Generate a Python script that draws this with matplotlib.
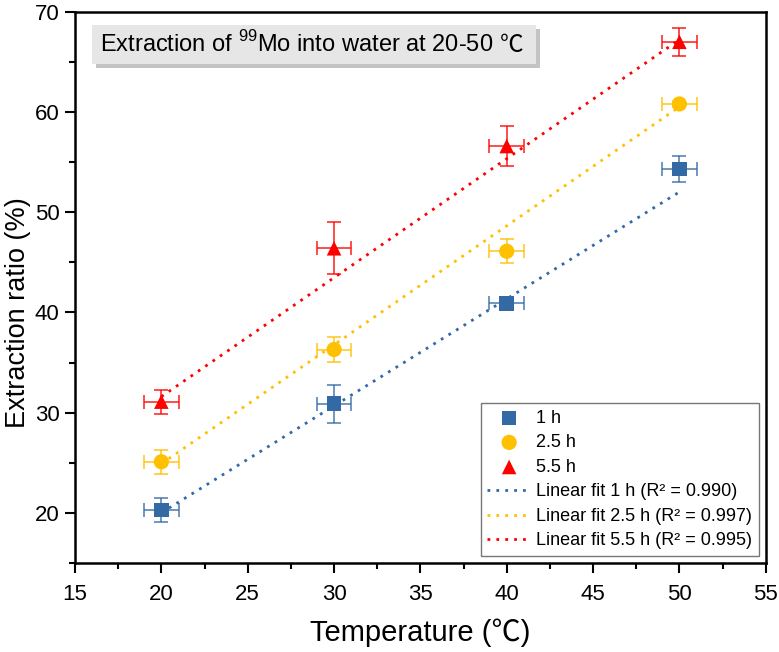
import numpy as np
import matplotlib
matplotlib.use("Agg")
import matplotlib.pyplot as plt
import matplotlib.patheffects as pe
from matplotlib.patches import Rectangle
from matplotlib.ticker import MultipleLocator

plt.rcParams['font.family'] = ['Liberation Sans', 'Noto Sans CJK SC', 'DejaVu Sans']
plt.rcParams['mathtext.fontset'] = 'custom'
plt.rcParams['mathtext.rm'] = 'Liberation Sans'

# data
temperature = [20, 30, 40, 50]
temp_err = [1, 1, 1, 1]

ratio_1h = [20.3, 30.9, 40.9, 54.3]
err_1h = [1.2, 1.9, 0.4, 1.3]
ratio_25h = [25.1, 36.3, 46.1, 60.8]
err_25h = [1.2, 1.2, 1.2, 0.3]
ratio_55h = [31.1, 46.4, 56.6, 67.0]
err_55h = [1.2, 2.6, 2.0, 1.4]

# linear fits as drawn (slope, intercept)
fit_1h = (1.067, -1.33)
fit_25h = (1.187, 1.16)
fit_55h = (1.187, 7.86)
r2 = ["0.990", "0.997", "0.995"]

labels = ["1 h", "2.5 h", "5.5 h"]
colors = ["#336AA6", "#FFC000", "#FF0000"]
markers = ["s", "o", "^"]


def add_title_box(fig, ax):
    # mathtext can't do the degree sign, so the box is built from two texts
    t1 = ax.text(0.036, 0.941, "Extraction of $^{99}$Mo into water at 20-50",
                 transform=ax.transAxes, fontsize=17, va="center", ha="left", zorder=6)
    t2 = ax.annotate("℃", xy=(1, 0), xycoords=t1, xytext=(7, 0), textcoords="offset pixels",
                     fontsize=17, va="bottom", ha="left", family=["Noto Sans CJK SC"], zorder=6)
    fig.canvas.draw()
    r = fig.canvas.get_renderer()
    b1 = t1.get_window_extent(r)
    b2 = t2.get_window_extent(r)
    x0, x1 = b1.x0 - 8, b2.x1 + 12
    y0, y1 = min(b1.y0, b2.y0) - 7, max(b1.y1, b2.y1) + 6
    inv = ax.transAxes.inverted()
    (ax0, ay0), (ax1, ay1) = inv.transform([(x0, y0), (x1, y1)])
    box = Rectangle((ax0, ay0), ax1 - ax0, ay1 - ay0, transform=ax.transAxes,
                    facecolor="#E6E6E6", edgecolor="none", zorder=5)
    box.set_path_effects([pe.withSimplePatchShadow(offset=(3, -3), shadow_rgbFace="#C4C4C4", alpha=1),
                          pe.Normal()])
    ax.add_patch(box)


def main():
    fig = plt.figure(figsize=(7.79, 6.52), dpi=100)
    ax = fig.add_axes([0.0963, 0.1365, 0.8867, 0.8455])

    series = [(ratio_1h, err_1h, fit_1h), (ratio_25h, err_25h, fit_25h), (ratio_55h, err_55h, fit_55h)]
    point_handles = []
    for (y, yerr, fit), lab, col, mk in zip(series, labels, colors, markers):
        ax.errorbar(temperature, y, xerr=temp_err, yerr=yerr, fmt="none",
                    ecolor=col, alpha=0.7, elinewidth=1.4, capsize=5, capthick=1.4, zorder=2)
        h = ax.scatter(temperature, y, marker=mk, s=110 if mk != "o" else 120,
                       color=col, edgecolor="none", label=lab, zorder=4)
        point_handles.append(h)

    fit_handles = []
    xs = np.linspace(temperature[0], temperature[-1], 50)
    for (y, yerr, fit), lab, col, r in zip(series, labels, colors, r2):
        ln, = ax.plot(xs, fit[0] * xs + fit[1], linestyle=(0, (1, 2.2)), linewidth=2,
                      color=col, label=f"Linear fit {lab} (R² = {r})", zorder=3)
        fit_handles.append(ln)

    ax.set_xlim(15, 55)
    ax.set_ylim(15, 70)
    ax.xaxis.set_major_locator(MultipleLocator(5))
    ax.xaxis.set_minor_locator(MultipleLocator(2.5))
    ax.yaxis.set_major_locator(MultipleLocator(10))
    ax.yaxis.set_minor_locator(MultipleLocator(5))
    ax.tick_params(which="major", direction="out", length=7, width=1.5, labelsize=16)
    ax.tick_params(which="minor", direction="out", length=4, width=1.5)
    ax.tick_params(axis="x", pad=8)
    ax.tick_params(axis="y", pad=4)
    for sp in ax.spines.values():
        sp.set_linewidth(1.8)

    ax.set_xlabel("Temperature (℃)", fontsize=21, labelpad=10)
    ax.set_ylabel("Extraction ratio (%)", fontsize=19.5)
    ax.yaxis.set_label_coords(-0.064, 0.455)

    leg = ax.legend(handles=point_handles + fit_handles, loc="lower right",
                    fontsize=13, frameon=True, fancybox=False, edgecolor="#555555",
                    borderaxespad=0.4, handlelength=2.4, handletextpad=0.3,
                    labelspacing=0.42, borderpad=0.35)
    leg.get_frame().set_linewidth(1.0)

    add_title_box(fig, ax)

    fig.savefig("out.png", dpi=100)


if __name__ == "__main__":
    main()
